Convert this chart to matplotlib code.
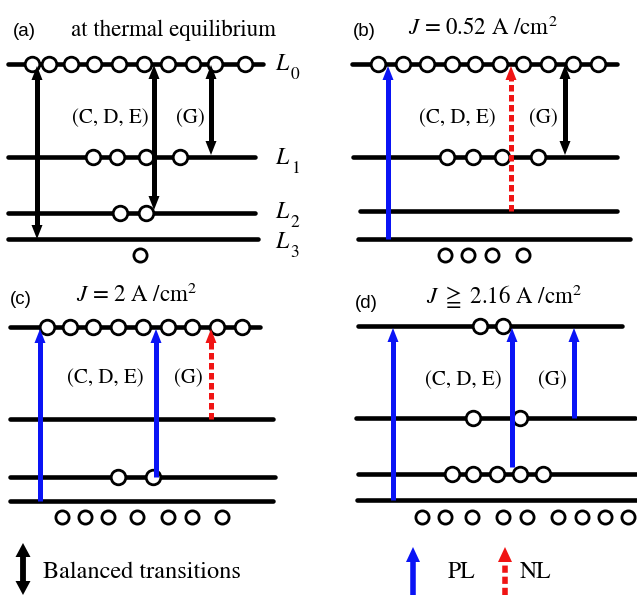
import matplotlib
matplotlib.use("Agg")
import matplotlib.pyplot as plt

# energy level heights (pixels from top) for each panel: L0, L1, L2, L3
levels_y = {
    "a": [64, 157, 213, 239],
    "b": [64, 157, 211, 239],
    "c": [327, 419, 477, 501],
    "d": [326, 418, 474, 500],
}
# horizontal extent of each level line
levels_x = {
    "a": [(8, 263), (8, 255), (8, 255), (8, 258)],
    "b": [(352, 617), (353, 617), (360, 617), (358, 630)],
    "c": [(10, 260), (10, 273), (10, 275), (10, 273)],
    "d": [(358, 622), (356, 635), (358, 637), (357, 637)],
}
# carriers sitting on each level (L0..L3)
electrons = {
    "a": [[32, 49, 71, 94, 119, 144, 168, 193, 215, 245], [93, 117, 146, 180], [120, 146], []],
    "b": [[378, 403, 427, 452, 475, 500, 523, 548, 573, 598], [447, 473, 502, 538], [], []],
    "c": [[47, 70, 93, 118, 143, 168, 192, 217, 242], [], [118, 153], []],
    "d": [[480, 503], [473, 520], [452, 473, 497, 520, 543], []],
}
# carriers below the lowest level
below_x = {
    "a": [140],
    "b": [445, 468, 492, 523],
    "c": [62, 85, 108, 137, 168, 192, 222],
    "d": [422, 445, 472, 503, 527, 558, 582, 605, 628],
}
below_y = {"a": 255, "b": 255, "c": 517, "d": 517}

# transitions: x, start y, end y, kind
transitions = {
    "a": [(37, 66, 239, "both"), (154, 65, 210, "both"), (211, 65, 155, "both")],
    "b": [(388, 239, 66, "pl"), (511, 211, 66, "nl"), (565, 65, 155, "both")],
    "c": [(40, 501, 329, "pl"), (156, 477, 329, "pl"), (211, 419, 329, "nl")],
    "d": [(393, 500, 328, "pl"), (512, 467, 328, "pl"), (574, 418, 328, "pl")],
}

panel_tags = {"a": (24, 32), "b": (364, 32), "c": (21, 300), "d": (366, 303)}
titles = {
    "a": ("at thermal equilibrium", 173, 30),
    "b": (r"$J$ = 0.52 A /cm$^2$", 483, 28),
    "c": (r"$J$ = 2 A /cm$^2$", 137, 295),
    "d": (r"$J\ \geqq$ 2.16 A /cm$^2$", 504, 297),
}
label_cde = {"a": (110, 118), "b": (457, 118), "c": (105, 378), "d": (463, 380)}
label_g = {"a": (190, 118), "b": (543, 118), "c": (188, 378), "d": (552, 380)}

level_names = ["0", "1", "2", "3"]
level_label_y = [64, 158, 212, 242]

BLUE = "#0a14f5"
RED = "#f01414"

plt.rcParams["mathtext.fontset"] = "stix"
SERIF = "STIXGeneral"
SANS = "Liberation Sans"

fig = plt.figure(figsize=(6.37, 5.97), dpi=100)
ax = fig.add_axes([0, 0, 1, 1])
ax.set_xlim(0, 637)
ax.set_ylim(597, 0)
ax.axis("off")


def arrow(x, y0, y1, kind, hw=11, hl=14, lw=3.6):
    color = {"both": "black", "pl": BLUE, "nl": RED}[kind]
    step = 1 if y1 > y0 else -1
    if kind == "both":
        ax.plot([x, x], [y0 + step * hl * 0.8, y1 - step * hl * 0.8], color=color, lw=lw,
                solid_capstyle="butt", zorder=4)
        for tip, direction in ((y0, -step), (y1, step)):
            ax.arrow(x, tip - direction * hl, 0, direction * hl, width=0.1, head_width=hw,
                     head_length=hl, length_includes_head=True, color=color, lw=0, zorder=4)
        return
    ls = (0, (1.3, 0.7)) if kind == "nl" else "-"
    ax.plot([x, x], [y0, y1 - step * hl * 0.8], color=color, lw=lw, ls=ls,
            solid_capstyle="butt", dash_capstyle="butt", zorder=4)
    ax.arrow(x, y1 - step * hl, 0, step * hl, width=0.1, head_width=hw, head_length=hl,
             length_includes_head=True, color=color, lw=0, zorder=4)


for key in "abcd":
    for (xa, xb), y in zip(levels_x[key], levels_y[key]):
        ax.plot([xa, xb], [y, y], color="black", lw=3.3, solid_capstyle="round", zorder=1)
    for xs, y in zip(electrons[key], levels_y[key]):
        ax.plot(xs, [y] * len(xs), "o", ms=10.5, mfc="white", mec="black", mew=2.0, zorder=3)
    bx = below_x[key]
    ax.plot(bx, [below_y[key]] * len(bx), "o", ms=9.5, mfc="white", mec="black", mew=2.0, zorder=3)
    for tr in transitions[key]:
        arrow(*tr)
    tx, ty = panel_tags[key]
    ax.text(tx, ty, f"({key})", fontsize=13.5, family=SANS, ha="center", va="center")
    s, x, y = titles[key]
    ax.text(x, y, s, fontsize=16.5, family=SERIF, ha="center", va="center")
    ax.text(*label_cde[key], "(C, D, E)", fontsize=15, family=SERIF, ha="center", va="center")
    ax.text(*label_g[key], "(G)", fontsize=15, family=SERIF, ha="center", va="center")

for name, y in zip(level_names, level_label_y):
    ax.text(282, y, "L", fontsize=17, family=SERIF, style="italic", ha="center", va="center")
    ax.text(295, y + 11, name, fontsize=12.5, family=SERIF, ha="center", va="center")

# legend
arrow(23, 543, 595, "both", hw=15, hl=14, lw=4.2)
ax.text(43, 572, "Balanced transitions", fontsize=17.5, family=SERIF, ha="left", va="center")
arrow(413, 595, 547, "pl", hw=14, hl=15, lw=4.0)
ax.text(448, 572, "PL", fontsize=17, family=SERIF, ha="left", va="center")
arrow(505, 595, 547, "nl", hw=14, hl=15, lw=4.0)
ax.text(520, 572, "NL", fontsize=17, family=SERIF, ha="left", va="center")

fig.savefig("out.png", dpi=100)
